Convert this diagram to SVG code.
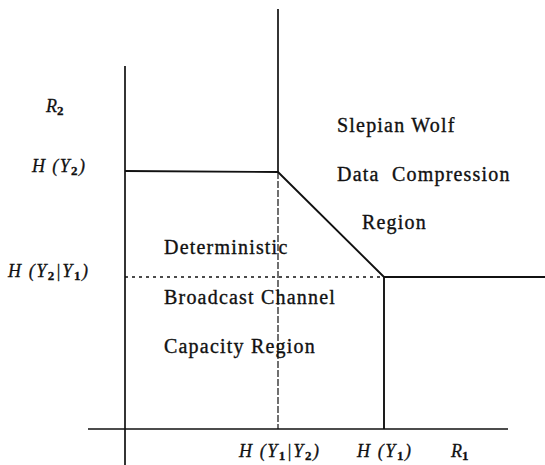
<svg xmlns="http://www.w3.org/2000/svg" width="545" height="465" viewBox="0 0 545 465">
  <style>
    .ax { stroke: #111; stroke-width: 1.7; fill: none; }
    .bd { stroke: #111; stroke-width: 1.9; fill: none; }
    .dot { stroke: #111; stroke-width: 1.5; stroke-dasharray: 3 4; fill: none; }
    .dash { stroke: #111; stroke-width: 1.2; stroke-dasharray: 7 2; fill: none; }
    .lbl { font-family: "Liberation Serif", "Times New Roman", serif; font-size: 20px; letter-spacing: 1.2px; fill: #111; stroke: #111; stroke-width: 0.35; }
    .math { font-family: "Liberation Serif", "Times New Roman", serif; font-size: 18px; font-style: italic; fill: #111; stroke: #111; stroke-width: 0.3; }
    .sub { font-size: 13px; font-style: normal; font-weight: bold; }
  </style>

  <!-- axes -->
  <g id="axes">
    <line class="ax" x1="125" y1="66" x2="125" y2="465"/>
    <line class="ax" x1="88" y1="429" x2="508" y2="429"/>
  </g>

  <!-- region boundaries -->
  <g id="connectors">
    <line class="ax" x1="278" y1="9" x2="278" y2="172"/>
    <line class="dash" x1="278" y1="172" x2="278" y2="429"/>
    <polyline class="bd" points="125,171 278,172 384,277 545,277"/>
    <line class="bd" x1="384" y1="277" x2="384" y2="429"/>
    <line class="dot" x1="125" y1="277" x2="384" y2="277"/>
  </g>

  <!-- axis labels -->
  <g id="label-R2"><text class="math" x="46" y="112">R<tspan class="sub" dy="3">2</tspan></text></g>
  <g id="label-HY2"><text class="math" x="32" y="172" textLength="53" lengthAdjust="spacing">H (Y<tspan class="sub" dy="3">2</tspan><tspan dy="-3">)</tspan></text></g>
  <g id="label-HY2Y1"><text class="math" x="8" y="277" textLength="80" lengthAdjust="spacing">H (Y<tspan class="sub" dy="3">2</tspan><tspan dy="-3">|Y</tspan><tspan class="sub" dy="3">1</tspan><tspan dy="-3">)</tspan></text></g>
  <g id="label-HY1Y2"><text class="math" x="239" y="457" textLength="80" lengthAdjust="spacing">H (Y<tspan class="sub" dy="3">1</tspan><tspan dy="-3">|Y</tspan><tspan class="sub" dy="3">2</tspan><tspan dy="-3">)</tspan></text></g>
  <g id="label-HY1"><text class="math" x="357" y="457" textLength="54" lengthAdjust="spacing">H (Y<tspan class="sub" dy="3">1</tspan><tspan dy="-3">)</tspan></text></g>
  <g id="label-R1"><text class="math" x="451" y="457">R<tspan class="sub" dy="3">1</tspan></text></g>

  <!-- region descriptions -->
  <g id="slepian-wolf">
    <text class="lbl" x="337" y="132">Slepian Wolf</text>
    <text class="lbl" x="337" y="181" xml:space="preserve">Data  Compression</text>
    <text class="lbl" x="362" y="229">Region</text>
  </g>
  <g id="broadcast">
    <text class="lbl" x="164" y="254">Deterministic</text>
    <text class="lbl" x="164" y="304">Broadcast Channel</text>
    <text class="lbl" x="164" y="353">Capacity Region</text>
  </g>
</svg>
